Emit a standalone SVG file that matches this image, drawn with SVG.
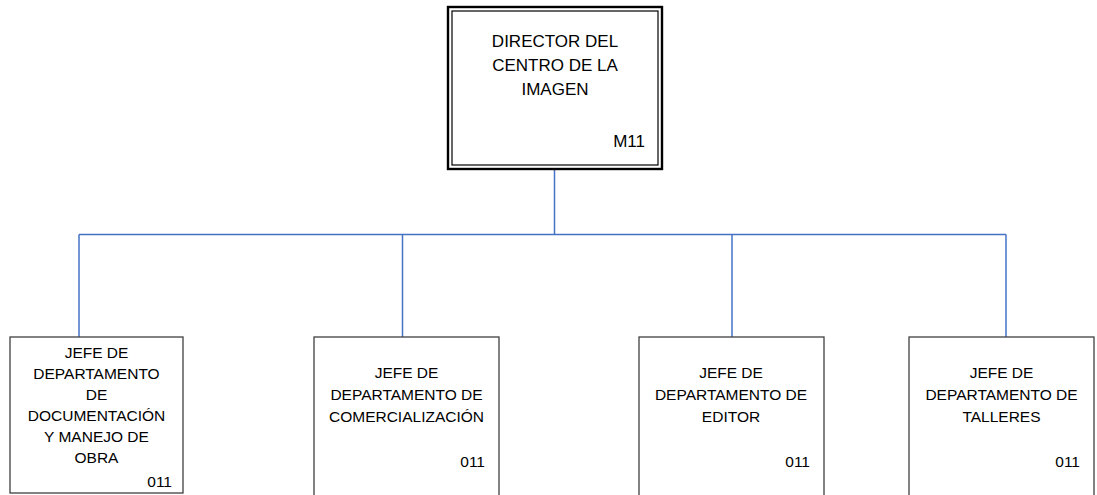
<svg xmlns="http://www.w3.org/2000/svg" width="1097" height="495" viewBox="0 0 1097 495">
<style>
.box{fill:#fff;stroke:#404040;stroke-width:1.3}
.t{font-family:"Liberation Sans",Arial,sans-serif;font-size:15.5px;fill:#000;text-anchor:middle}
.tt{font-family:"Liberation Sans",Arial,sans-serif;font-size:17px;fill:#000;text-anchor:middle}
.code{text-anchor:end}
.c{stroke:#4472C4;stroke-width:1.5;fill:none}
</style>
<rect width="1097" height="495" fill="#fff"/>
<g id="connectors">
<line class="c" x1="554.5" y1="170" x2="554.5" y2="234.5"/>
<line class="c" x1="79" y1="234.5" x2="1006" y2="234.5"/>
<line class="c" x1="79" y1="234.5" x2="79" y2="337"/>
<line class="c" x1="402.5" y1="234.5" x2="402.5" y2="337"/>
<line class="c" x1="732" y1="234.5" x2="732" y2="337"/>
<line class="c" x1="1006" y1="234.5" x2="1006" y2="337"/>
</g>
<g id="director">
<rect x="448" y="7" width="214" height="162" fill="#fff" stroke="#000" stroke-width="2.4"/>
<rect x="452" y="11" width="206" height="154" fill="none" stroke="#000" stroke-width="1.2"/>
<text class="tt" x="555" y="47">DIRECTOR DEL</text>
<text class="tt" x="555" y="71">CENTRO DE LA</text>
<text class="tt" x="555" y="95">IMAGEN</text>
<text class="tt code" x="645" y="147">M11</text>
</g>
<g id="jefe-documentacion">
<rect class="box" x="10" y="337" width="173" height="156"/>
<text class="t" x="96.5" y="358">JEFE DE</text>
<text class="t" x="96.5" y="379">DEPARTAMENTO</text>
<text class="t" x="96.5" y="400">DE</text>
<text class="t" x="96.5" y="421">DOCUMENTACIÓN</text>
<text class="t" x="96.5" y="442">Y MANEJO DE</text>
<text class="t" x="96.5" y="463">OBRA</text>
<text class="t code" x="172" y="487">011</text>
</g>
<g id="jefe-comercializacion">
<rect class="box" x="314" y="337" width="185" height="160"/>
<text class="t" x="406.5" y="378">JEFE DE</text>
<text class="t" x="406.5" y="400">DEPARTAMENTO DE</text>
<text class="t" x="406.5" y="422">COMERCIALIZACIÓN</text>
<text class="t code" x="485" y="467">011</text>
</g>
<g id="jefe-editor">
<rect class="box" x="639" y="337" width="185" height="160"/>
<text class="t" x="731" y="378">JEFE DE</text>
<text class="t" x="731" y="400">DEPARTAMENTO DE</text>
<text class="t" x="731" y="422">EDITOR</text>
<text class="t code" x="810" y="467">011</text>
</g>
<g id="jefe-talleres">
<rect class="box" x="909" y="337" width="185" height="160"/>
<text class="t" x="1001.5" y="378">JEFE DE</text>
<text class="t" x="1001.5" y="400">DEPARTAMENTO DE</text>
<text class="t" x="1001.5" y="422">TALLERES</text>
<text class="t code" x="1080" y="467">011</text>
</g>
</svg>
